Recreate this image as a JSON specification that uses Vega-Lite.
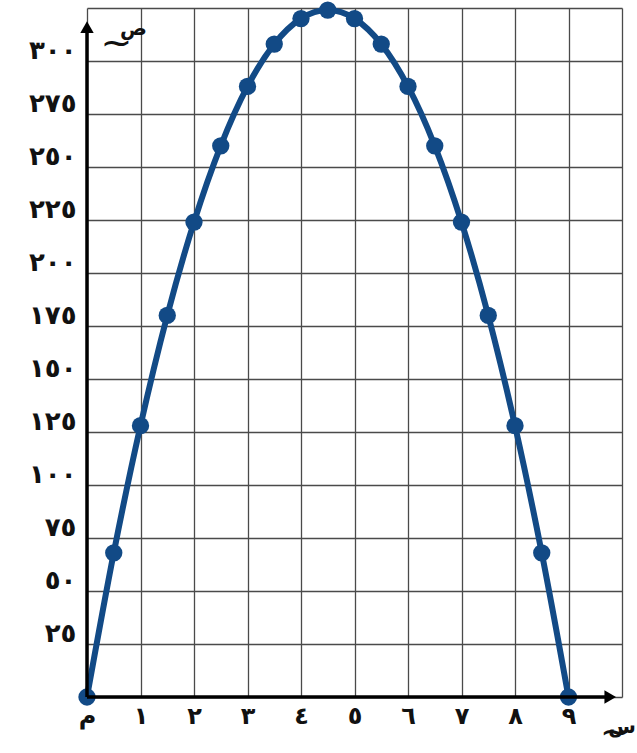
{
  "$schema": "https://vega.github.io/schema/vega-lite/v6.json",
  "width": 535,
  "height": 689,
  "autosize": {"type": "none"},
  "padding": {"left": 87, "top": 8, "right": 15, "bottom": 56},
  "background": "white",
  "config": {
    "view": {"stroke": null},
    "locale": {
      "number": {
        "decimal": ".",
        "thousands": ",",
        "grouping": [3],
        "currency": ["", ""],
        "numerals": ["٠", "١", "٢", "٣", "٤", "٥", "٦", "٧", "٨", "٩"]
      }
    }
  },
  "layer": [
    {
      "data": {"values": [
        {"x": 0, "y": 0}, {"x": 0.5, "y": 68}, {"x": 1, "y": 128}, {"x": 1.5, "y": 180},
        {"x": 2, "y": 224}, {"x": 2.5, "y": 260}, {"x": 3, "y": 288}, {"x": 3.5, "y": 308},
        {"x": 4, "y": 320}, {"x": 4.5, "y": 324}, {"x": 5, "y": 320}, {"x": 5.5, "y": 308},
        {"x": 6, "y": 288}, {"x": 6.5, "y": 260}, {"x": 7, "y": 224}, {"x": 7.5, "y": 180},
        {"x": 8, "y": 128}, {"x": 8.5, "y": 68}, {"x": 9, "y": 0}
      ]},
      "layer": [
        {
          "mark": {"type": "line", "color": "#124a86", "strokeWidth": 6, "interpolate": "monotone"},
          "encoding": {
            "x": {
              "field": "x", "type": "quantitative",
              "scale": {"domain": [0, 10], "nice": false, "zero": false},
              "axis": {
                "title": null,
                "values": [0, 1, 2, 3, 4, 5, 6, 7, 8, 9, 10],
                "grid": true, "gridColor": "#4a4a4a", "gridWidth": 1.3,
                "domain": false, "ticks": false,
                "labelExpr": "datum.value == 0 ? 'م' : (datum.value == 10 ? '' : datum.label)",
                "labelFont": "DejaVu Sans", "labelFontSize": 24, "labelFontWeight": "bold",
                "labelColor": "#111", "labelPadding": 7, "labelFlush": false
              }
            },
            "y": {
              "field": "y", "type": "quantitative",
              "scale": {"domain": [0, 325], "nice": false, "zero": false},
              "axis": {
                "title": null,
                "values": [0, 25, 50, 75, 100, 125, 150, 175, 200, 225, 250, 275, 300, 325],
                "grid": true, "gridColor": "#4a4a4a", "gridWidth": 1.3,
                "domain": false, "ticks": false,
                "labelExpr": "(datum.value == 0 || datum.value == 325) ? '' : datum.label",
                "labelFont": "DejaVu Sans", "labelFontSize": 26, "labelFontWeight": "bold",
                "labelColor": "#111", "labelPadding": 11, "labelFlush": false, "labelBaseline": "bottom", "labelOffset": 2
              }
            }
          }
        },
        {
          "mark": {"type": "point", "filled": true, "color": "#124a86", "size": 300, "opacity": 1},
          "encoding": {
            "x": {"field": "x", "type": "quantitative"},
            "y": {"field": "y", "type": "quantitative"}
          }
        }
      ]
    },
    {
      "data": {"values": [
        {"x": 0, "x2": 9.8, "y": 0, "y2": 0},
        {"x": 0, "x2": 0, "y": 0, "y2": 316}
      ]},
      "mark": {"type": "rule", "color": "#000", "strokeWidth": 3.5},
      "encoding": {
        "x": {"field": "x", "type": "quantitative"},
        "x2": {"field": "x2"},
        "y": {"field": "y", "type": "quantitative"},
        "y2": {"field": "y2"}
      }
    },
    {
      "data": {"values": [
        {"x": 9.78, "y": 0, "shape": "triangle-right"},
        {"x": 0, "y": 316, "shape": "triangle-up"}
      ]},
      "mark": {"type": "point", "filled": true, "color": "#000", "size": 180, "opacity": 1},
      "encoding": {
        "x": {"field": "x", "type": "quantitative"},
        "y": {"field": "y", "type": "quantitative"},
        "shape": {"field": "shape", "type": "nominal", "scale": null}
      }
    },
    {
      "data": {"values": [
        {"x": 1.12, "y": 315, "label": "ص"},
        {"x": 10.26, "y": -14, "label": "س"}
      ]},
      "mark": {"type": "text", "font": "DejaVu Sans", "fontSize": 20, "fontWeight": "bold", "color": "#111", "align": "right"},
      "encoding": {
        "x": {"field": "x", "type": "quantitative"},
        "y": {"field": "y", "type": "quantitative"},
        "text": {"field": "label", "type": "nominal"}
      }
    },
    {
      "data": {"values": [
        {"x": 0.55, "y": 308, "label": "~"},
        {"x": 9.88, "y": -17, "label": "~"}
      ]},
      "mark": {"type": "text", "font": "DejaVu Sans", "fontSize": 38, "color": "#111", "baseline": "middle"},
      "encoding": {
        "x": {"field": "x", "type": "quantitative"},
        "y": {"field": "y", "type": "quantitative"},
        "text": {"field": "label", "type": "nominal"}
      }
    }
  ]
}
